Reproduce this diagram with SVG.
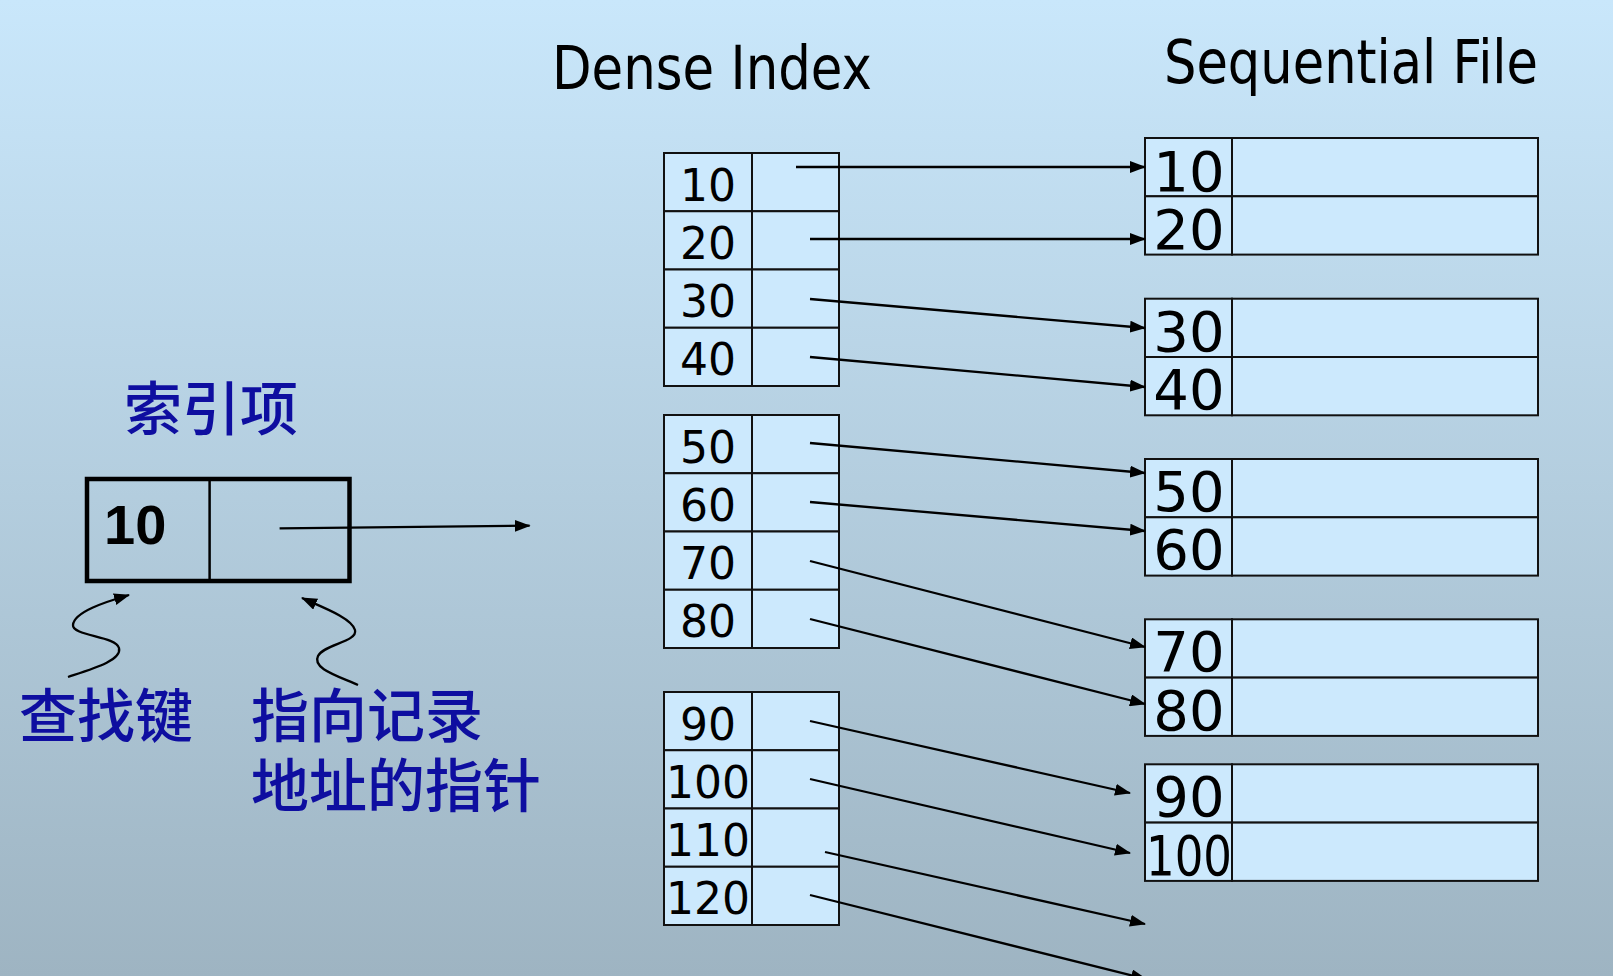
<svg xmlns="http://www.w3.org/2000/svg" width="1613" height="976" viewBox="0 0 1613 976">
<defs>
<linearGradient id="bg" x1="0" y1="0" x2="0" y2="1">
<stop offset="0" stop-color="#c9e7fb"/>
<stop offset="1" stop-color="#9eb4c2"/>
</linearGradient>
<marker id="ah" viewBox="0 0 16 12" refX="15" refY="6" markerWidth="16" markerHeight="12" markerUnits="userSpaceOnUse" orient="auto">
<path d="M0,0 L16,6 L0,12 z" fill="#000"/>
</marker>
<style>
.cell{fill:#cce9fd;stroke:#111;stroke-width:2}
.ik{font-family:"DejaVu Sans","Verdana",sans-serif;font-size:44px;fill:#000;text-anchor:middle}
.sk{font-family:"DejaVu Sans","Verdana",sans-serif;font-size:56px;fill:#000;text-anchor:middle}
.title{font-family:"DejaVu Sans","Verdana",sans-serif;font-size:61px;fill:#000}
.cn{font-family:"Noto Sans CJK SC",sans-serif;font-size:58px;font-weight:500;fill:#0e0ea0}
.conn{stroke:#000;stroke-width:2.3;fill:none;marker-end:url(#ah)}
</style>
</defs>
<rect width="1613" height="976" fill="url(#bg)"/>

<g id="titles">
<text class="title" x="552" y="89" textLength="320" lengthAdjust="spacingAndGlyphs">Dense Index</text>
<text class="title" x="1164" y="82.5" textLength="374" lengthAdjust="spacingAndGlyphs">Sequential File</text>
</g>

<g id="index-entry">
<text class="cn" x="124" y="430">索引项</text>
<rect x="87" y="479" width="262.5" height="102" fill="none" stroke="#000" stroke-width="4.5"/>
<line x1="209.6" y1="479" x2="209.6" y2="581" stroke="#000" stroke-width="2.5"/>
<text x="104" y="544" font-family="Liberation Sans, Arial, sans-serif" font-weight="bold" font-size="56" fill="#000">10</text>
<line x1="279.6" y1="528.3" x2="529.6" y2="525.7" class="conn"/>
<path d="M68,677 C95,668 122,660 119,648 C116,636 72,636 73,625 C74,612 105,602 129,595" class="conn" stroke-width="2.5"/>
<path d="M358,685 C335,675 312,668 318,656 C324,644 358,642 355,630 C352,618 322,607 302,598" class="conn" stroke-width="2.5"/>
<text class="cn" x="19" y="737">查找键</text>
<text class="cn" x="251" y="737" font-size="59">指向记录</text>
<text class="cn" x="251" y="807" font-size="59">地址的指针</text>
</g>

<g id="index-block-1">
<rect class="cell" x="664" y="153" width="88" height="58.25"/><rect class="cell" x="752" y="153" width="87" height="58.25"/>
<rect class="cell" x="664" y="211.25" width="88" height="58.25"/><rect class="cell" x="752" y="211.25" width="87" height="58.25"/>
<rect class="cell" x="664" y="269.5" width="88" height="58.25"/><rect class="cell" x="752" y="269.5" width="87" height="58.25"/>
<rect class="cell" x="664" y="327.75" width="88" height="58.25"/><rect class="cell" x="752" y="327.75" width="87" height="58.25"/>
<text class="ik" x="708" y="200.5">10</text>
<text class="ik" x="708" y="258.75">20</text>
<text class="ik" x="708" y="317">30</text>
<text class="ik" x="708" y="375.25">40</text>
</g>

<g id="index-block-2">
<rect class="cell" x="664" y="415" width="88" height="58.25"/><rect class="cell" x="752" y="415" width="87" height="58.25"/>
<rect class="cell" x="664" y="473.25" width="88" height="58.25"/><rect class="cell" x="752" y="473.25" width="87" height="58.25"/>
<rect class="cell" x="664" y="531.5" width="88" height="58.25"/><rect class="cell" x="752" y="531.5" width="87" height="58.25"/>
<rect class="cell" x="664" y="589.75" width="88" height="58.25"/><rect class="cell" x="752" y="589.75" width="87" height="58.25"/>
<text class="ik" x="708" y="462.5">50</text>
<text class="ik" x="708" y="520.75">60</text>
<text class="ik" x="708" y="579">70</text>
<text class="ik" x="708" y="637.25">80</text>
</g>

<g id="index-block-3">
<rect class="cell" x="664" y="692" width="88" height="58.25"/><rect class="cell" x="752" y="692" width="87" height="58.25"/>
<rect class="cell" x="664" y="750.25" width="88" height="58.25"/><rect class="cell" x="752" y="750.25" width="87" height="58.25"/>
<rect class="cell" x="664" y="808.5" width="88" height="58.25"/><rect class="cell" x="752" y="808.5" width="87" height="58.25"/>
<rect class="cell" x="664" y="866.75" width="88" height="58.25"/><rect class="cell" x="752" y="866.75" width="87" height="58.25"/>
<text class="ik" x="708" y="739.5">90</text>
<text class="ik" x="708" y="797.75">100</text>
<text class="ik" x="708" y="856">110</text>
<text class="ik" x="708" y="914.25">120</text>
</g>

<g id="seq-block-1">
<rect class="cell" x="1145" y="138" width="87" height="58.3"/><rect class="cell" x="1232" y="138" width="306" height="58.3"/>
<rect class="cell" x="1145" y="196.3" width="87" height="58.3"/><rect class="cell" x="1232" y="196.3" width="306" height="58.3"/>
<text class="sk" x="1189" y="190.5">10</text>
<text class="sk" x="1189" y="248.8">20</text>
</g>
<g id="seq-block-2">
<rect class="cell" x="1145" y="298.7" width="87" height="58.3"/><rect class="cell" x="1232" y="298.7" width="306" height="58.3"/>
<rect class="cell" x="1145" y="357" width="87" height="58.3"/><rect class="cell" x="1232" y="357" width="306" height="58.3"/>
<text class="sk" x="1189" y="350.5">30</text>
<text class="sk" x="1189" y="408.8">40</text>
</g>
<g id="seq-block-3">
<rect class="cell" x="1145" y="459" width="87" height="58.3"/><rect class="cell" x="1232" y="459" width="306" height="58.3"/>
<rect class="cell" x="1145" y="517.3" width="87" height="58.3"/><rect class="cell" x="1232" y="517.3" width="306" height="58.3"/>
<text class="sk" x="1189" y="510.8">50</text>
<text class="sk" x="1189" y="569.1">60</text>
</g>
<g id="seq-block-4">
<rect class="cell" x="1145" y="619.3" width="87" height="58.3"/><rect class="cell" x="1232" y="619.3" width="306" height="58.3"/>
<rect class="cell" x="1145" y="677.6" width="87" height="58.3"/><rect class="cell" x="1232" y="677.6" width="306" height="58.3"/>
<text class="sk" x="1189" y="671">70</text>
<text class="sk" x="1189" y="729.5">80</text>
</g>
<g id="seq-block-5">
<rect class="cell" x="1145" y="764.3" width="87" height="58.3"/><rect class="cell" x="1232" y="764.3" width="306" height="58.3"/>
<rect class="cell" x="1145" y="822.6" width="87" height="58.3"/><rect class="cell" x="1232" y="822.6" width="306" height="58.3"/>
<text class="sk" x="1189" y="816">90</text>
<text class="sk" x="1189" y="874.5" textLength="86" lengthAdjust="spacingAndGlyphs">100</text>
</g>

<g id="connectors">
<line class="conn" x1="796" y1="167" x2="1145" y2="167"/>
<line class="conn" x1="810" y1="239" x2="1145" y2="239"/>
<line class="conn" x1="810" y1="299" x2="1145" y2="328"/>
<line class="conn" x1="810" y1="357" x2="1145" y2="387"/>
<line class="conn" x1="810" y1="443" x2="1145" y2="473"/>
<line class="conn" x1="810" y1="502" x2="1145" y2="531"/>
<line class="conn" x1="810" y1="561" x2="1145" y2="647"/>
<line class="conn" x1="810" y1="619" x2="1145" y2="704"/>
<line class="conn" x1="810" y1="721" x2="1130" y2="793"/>
<line class="conn" x1="810" y1="779" x2="1130" y2="853"/>
<line class="conn" x1="825" y1="852" x2="1145" y2="924"/>
<line class="conn" x1="810" y1="895" x2="1146" y2="979"/>
</g>
</svg>
